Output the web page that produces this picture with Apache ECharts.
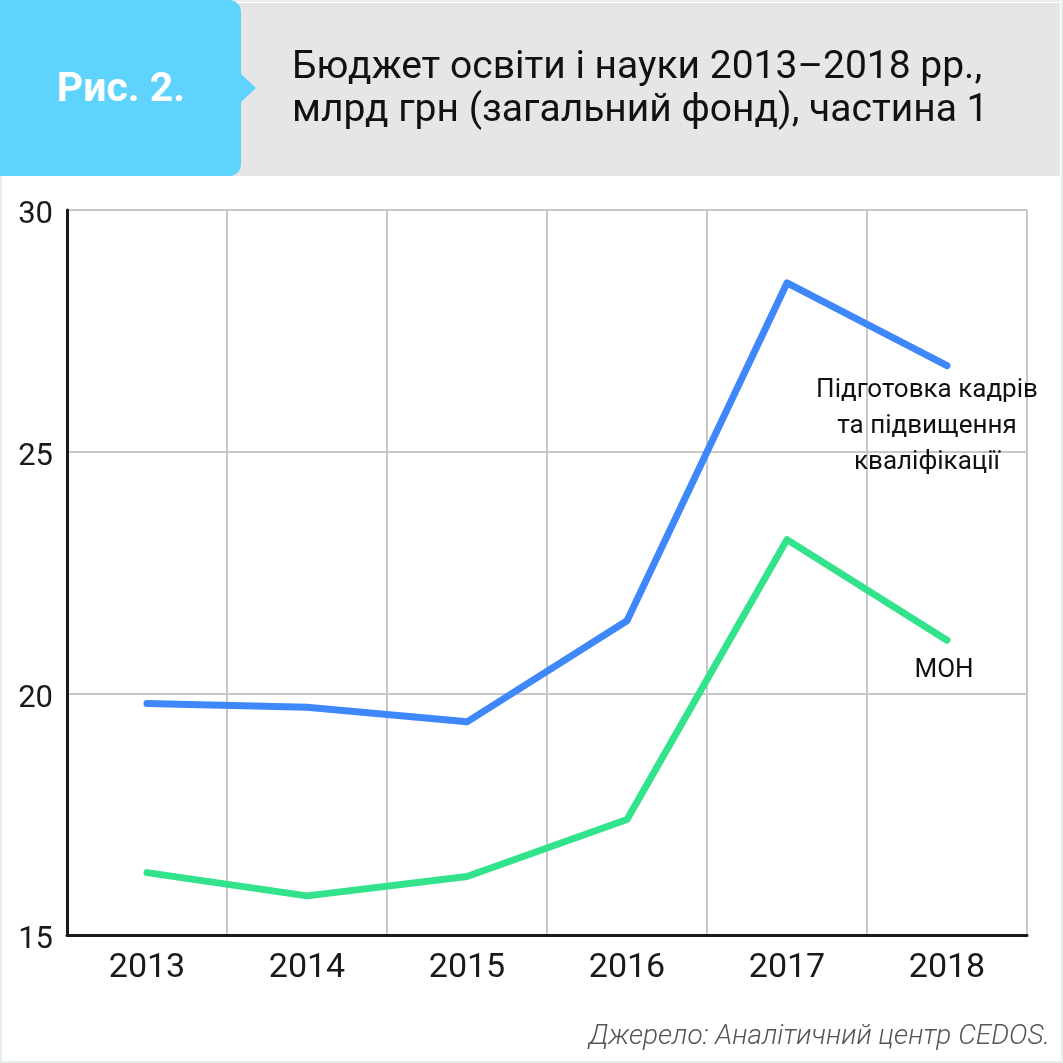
<!DOCTYPE html>
<html><head><meta charset="utf-8">
<script src="https://cdn.jsdelivr.net/npm/echarts@6/dist/echarts.min.js"></script>
<style>html,body{margin:0;padding:0;background:#fff}#c{width:1063px;height:1063px}</style>
</head><body><div id="c"></div>
<script>
const years = ['2013','2014','2015','2016','2017','2018'];
const trainingValues = [19.79, 19.71, 19.41, 21.50, 28.49, 26.78];
const monValues = [16.29, 15.81, 16.21, 17.39, 23.18, 21.10];
const yTicks = [15, 20, 25, 30];
const trainingName = 'Підготовка кадрів\nта підвищення\nкваліфікації';
const monName = 'МОН';
const figLabel = 'Рис. 2.';
const titleText = 'Бюджет освіти і науки 2013–2018 рр.,\nмлрд грн (загальний фонд), частина 1';
const sourceText = 'Джерело: Аналітичний центр CEDOS.';

function lastLabel(arr, labelOpt){
  return arr.map((v,i)=> i===arr.length-1 ? {value:v, label:labelOpt} : v);
}

const chart = echarts.init(document.getElementById('c'), null, {renderer:'canvas'});
chart.setOption({
  animation:false,
  backgroundColor:'#ffffff',
  textStyle:{fontFamily:'Roboto'},
  graphic:[
    {type:'rect', z:-10, shape:{x:0,y:0,width:1063,height:1063}, style:{fill:'#fff', stroke:'#e8eded', lineWidth:4}},
    {type:'rect', z:-5, shape:{x:0,y:3,width:1060,height:173}, style:{fill:'#e6e6e6'}},
    {type:'rect', z:-4, shape:{x:0,y:0,width:241,height:176,r:[0,12,12,0]}, style:{fill:'#5dd3fe'}},
    {type:'polygon', z:-4, shape:{points:[[240,73],[256,88],[240,103]]}, style:{fill:'#5dd3fe'}},
    {type:'text', z:5, x:121, y:91, style:{text:figLabel, fill:'#fff', font:'bold 41px Roboto', align:'center', verticalAlign:'middle'}},
    {type:'text', z:5, x:292, y:47, style:{text:titleText, fill:'#111', fontFamily:'Roboto', fontSize:39, lineHeight:43, align:'left', verticalAlign:'top'}},
    {type:'text', z:5, x:1050, y:1037, style:{text:sourceText, fill:'#555', fontFamily:'Roboto', fontStyle:'italic', fontWeight:300, fontSize:28, align:'right', verticalAlign:'middle'}}
  ],
  grid:{left:67, right:36, top:210, bottom:128, containLabel:false},
  xAxis:{
    type:'category', data:years, boundaryGap:true,
    axisLine:{lineStyle:{color:'#1a1a1a', width:3}},
    axisTick:{show:false},
    axisLabel:{color:'#1a1a1a', fontSize:34, margin:16, fontFamily:'Roboto'},
    splitLine:{show:true, lineStyle:{color:'#c8c8c8', width:2}}
  },
  yAxis:{
    type:'value', min:yTicks[0], max:yTicks[yTicks.length-1], interval:5,
    axisLine:{show:true, lineStyle:{color:'#1a1a1a', width:3}},
    axisTick:{show:false},
    axisLabel:{color:'#1a1a1a', fontSize:31, margin:14, fontFamily:'Roboto', verticalAlign:'top', padding:[-10,0,0,0]},
    splitLine:{show:true, lineStyle:{color:'#c8c8c8', width:2}}
  },
  series:[
    {type:'line', name:'training', data:lastLabel(trainingValues,{show:true, position:'bottom', distance:6, offset:[-20,0], formatter:trainingName, color:'#111', fontSize:26, lineHeight:36, align:'center', fontFamily:'Roboto'}),
     symbol:'circle', symbolSize:1, showSymbol:true, itemStyle:{color:'#3f88fb'},
     lineStyle:{color:'#3f88fb', width:7, cap:'round', join:'round'}, z:3},
    {type:'line', name:'mon', data:lastLabel(monValues,{show:true, position:'bottom', distance:6, offset:[-3,6], formatter:monName, color:'#111', fontSize:26, lineHeight:36, align:'center', fontFamily:'Roboto'}),
     symbol:'circle', symbolSize:1, showSymbol:true, itemStyle:{color:'#33e38c'},
     lineStyle:{color:'#33e38c', width:7, cap:'round', join:'round'}, z:3}
  ]
});
</script></body></html>
